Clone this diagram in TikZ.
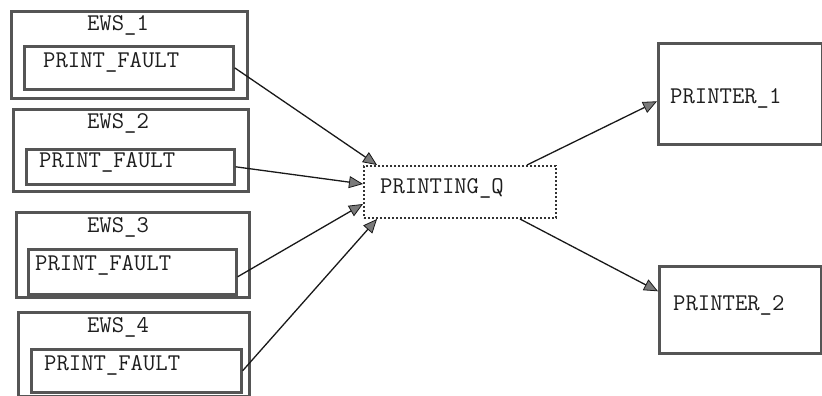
\documentclass[tikz,border=0pt]{standalone}
\usepackage{fontspec}
\usetikzlibrary{arrows.meta}
\definecolor{boxline}{HTML}{555555}
\definecolor{txt}{HTML}{1E1E1E}
\definecolor{headfill}{HTML}{7A7A7A}
\tikzset{
  box/.style={draw=boxline, line width=2.6pt, fill=none, inner sep=0pt, anchor=north west},
  qbox/.style={draw=black!80, line width=2pt, dotted, inner sep=0pt, anchor=north west},
  lbl/.style={inner sep=0pt, anchor=west, text=txt, font=\ttfamily\fontsize{24}{26}\selectfont},
  clbl/.style={inner sep=0pt, anchor=center, text=txt, font=\ttfamily\fontsize{24}{26}\selectfont},
  conn/.style={draw=black!90, line width=1.3pt, -{Triangle[length=14pt,width=12pt,fill=headfill,line width=0.8pt]}}
}
\begin{document}
\begin{tikzpicture}[x=1pt,y=-1pt]
\useasboundingbox (0,0) rectangle (822,396);
% outer EWS boxes
\node[box, minimum width=236pt, minimum height=87pt] (e1) at (10,10) {};
\node[box, minimum width=235pt, minimum height=82pt] (e2) at (12,108) {};
\node[box, minimum width=233pt, minimum height=85pt] (e3) at (15,211) {};
\node[box, minimum width=231pt, minimum height=84pt] (e4) at (17,311) {};
% inner PRINT_FAULT boxes
\node[box, minimum width=209pt, minimum height=43pt] (pf1) at (23,45) {};
\node[box, minimum width=208pt, minimum height=35pt] (pf2) at (25,148) {};
\node[box, minimum width=208pt, minimum height=45pt] (pf3) at (27,248) {};
\node[box, minimum width=210pt, minimum height=43pt] (pf4) at (30,348) {};
% printing queue and printers
\node[qbox, minimum width=192pt, minimum height=52pt] (q) at (363,165) {};
\node[box, minimum width=164pt, minimum height=101pt] (p1) at (657,42) {};
\node[box, minimum width=162pt, minimum height=87pt] (p2) at (658,265) {};
% labels
\node[clbl] (te1) at (118,25) {EWS\_1};
\node[clbl] (te2) at (118,123) {EWS\_2};
\node[clbl] (te3) at (118,227) {EWS\_3};
\node[clbl] (te4) at (118,327) {EWS\_4};
\node[lbl] (tpf1) at (43,62) {PRINT\_FAULT};
\node[lbl] (tpf2) at (39,162) {PRINT\_FAULT};
\node[lbl] (tpf3) at (35,265) {PRINT\_FAULT};
\node[lbl] (tpf4) at (44,365) {PRINT\_FAULT};
\node[lbl] (tq) at (380,188) {PRINTING\_Q};
\node[lbl] (tp1) at (670,98) {PRINTER\_1};
\node[lbl] (tp2) at (673,305) {PRINTER\_2};
% connectors
\draw[conn] (pf1.east) -- ([xshift=14pt]q.north west);
\draw[conn] (pf2.east) -- ([yshift=8pt]q.west);
\draw[conn] ([yshift=-5pt]pf3.east) -- ([yshift=-12pt]q.west);
\draw[conn] (pf4.east) -- ([xshift=14pt]q.south west);
\draw[conn] ([xshift=-30pt]q.north east) -- ([yshift=-7.5pt]p1.west);
\draw[conn] ([xshift=-37pt]q.south east) -- ([yshift=18.5pt]p2.west);
\end{tikzpicture}
\end{document}
